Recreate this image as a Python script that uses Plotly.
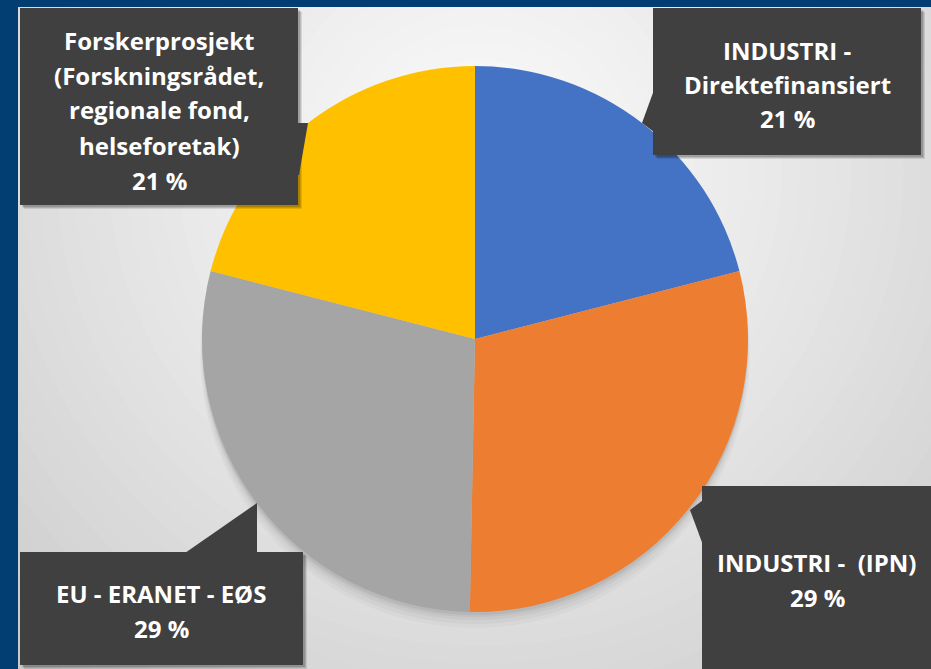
import plotly.graph_objects as go

W, H = 931, 669

# ---- data ----
categories = [
    "INDUSTRI - Direktefinansiert",
    "INDUSTRI -  (IPN)",
    "EU - ERANET - EØS",
    "Forskerprosjekt (Forskningsrådet, regionale fond, helseforetak)",
]
shares = [21.0, 29.3, 28.7, 21.0]
pct_labels = ["21 %", "29 %", "29 %", "21 %"]
label_lines = [
    ["INDUSTRI -", "Direktefinansiert"],
    ["INDUSTRI -  (IPN)"],
    ["EU - ERANET - EØS"],
    ["Forskerprosjekt", "(Forskningsrådet,", "regionale fond,", "helseforetak)"],
]
colors = ["#4472C4", "#ED7D31", "#A5A5A5", "#FFC000"]

# ---- helpers (pixel -> paper) ----
def px(x):
    return x / W

def py(y):
    return 1 - y / H

def path(points):
    return "M " + " L ".join(f"{px(x):.5f},{py(y):.5f}" for x, y in points) + " Z"

shapes = []

# radial background gradient (stepped)
cx, cy = 480, 170
n = 40
r_max, r_min = 720, 40
c_out, c_in = 196, 250
for i in range(n):
    t = i / (n - 1)
    r = r_max + (r_min - r_max) * t
    c = int(round(c_out + (c_in - c_out) * (t ** 0.8)))
    shapes.append(dict(type="circle", xref="paper", yref="paper", layer="below",
                       x0=px(cx - r), x1=px(cx + r), y0=py(cy + r), y1=py(cy - r),
                       fillcolor=f"rgb({c},{c},{c})", line=dict(width=0)))

# soft pie shadow (mostly below the pie)
pcx, pcy, pr = 475, 339, 273
for dr, dy, op in [(2, 14, 0.025), (1, 11, 0.03), (0, 8, 0.035), (0, 5, 0.04), (0, 3, 0.05)]:
    shapes.append(dict(type="circle", xref="paper", yref="paper", layer="below",
                       x0=px(pcx - pr - dr), x1=px(pcx + pr + dr),
                       y0=py(pcy + dy + pr + dr), y1=py(pcy + dy - pr - dr),
                       fillcolor=f"rgba(0,0,0,{op})", line=dict(width=0)))

# dark blue frame (left and top)
frame = "#023E71"
shapes.append(dict(type="rect", xref="paper", yref="paper", layer="below",
                   x0=0, x1=px(18), y0=0, y1=1, fillcolor=frame, line=dict(width=0)))
shapes.append(dict(type="rect", xref="paper", yref="paper", layer="below",
                   x0=0, x1=1, y0=py(7), y1=1, fillcolor=frame, line=dict(width=0)))

# callout boxes: rect (x0, y0, x1, y1) and pointer polygon, in pixels
boxes = [
    dict(rect=(653, 8, 921, 155), wedge=[(654, 90), (642, 123), (654, 132)],
         cx=787, ys=[50, 84, 118]),
    dict(rect=(702, 486, 940, 680), wedge=[(703, 500), (690, 510), (703, 545)],
         cx=817, ys=[562, 597]),
    dict(rect=(20, 552, 303, 665), wedge=[(185, 553), (257, 503), (257, 553)],
         cx=161, ys=[593, 628]),
    dict(rect=(20, 8, 298, 205), wedge=[(297, 123), (308, 123), (299, 175), (297, 175)],
         cx=159, ys=[40, 75, 110, 145, 180]),
]
box_fill = "#404040"
for b in boxes:
    x0, y0, x1, y1 = b["rect"]
    for off, op in [(4, 0.10), (3, 0.12), (2, 0.15)]:
        shapes.append(dict(type="rect", xref="paper", yref="paper", layer="above",
                           x0=px(x0 + off), x1=px(x1 + off), y0=py(y1 + off), y1=py(y0 + off),
                           fillcolor=f"rgba(0,0,0,{op})", line=dict(width=0)))
for b in boxes:
    x0, y0, x1, y1 = b["rect"]
    shapes.append(dict(type="path", xref="paper", yref="paper", layer="above",
                       path=path(b["wedge"]), fillcolor=box_fill, line=dict(width=0)))
    shapes.append(dict(type="rect", xref="paper", yref="paper", layer="above",
                       x0=px(x0), x1=px(x1), y0=py(y1), y1=py(y0),
                       fillcolor=box_fill, line=dict(width=0)))

annotations = []
for b, lines, pct in zip(boxes, label_lines, pct_labels):
    for text, yy in zip(lines + [pct], b["ys"]):
        annotations.append(dict(xref="paper", yref="paper", x=px(b["cx"]), y=py(yy),
                                xanchor="center", yanchor="middle", showarrow=False,
                                text=f"<b>{text}</b>",
                                font=dict(family="Open Sans", size=24, color="white")))

fig = go.Figure(go.Pie(
    labels=categories, values=shares, sort=False, direction="clockwise", rotation=0,
    marker=dict(colors=colors, line=dict(width=0)),
    textinfo="none", hoverinfo="label+percent", showlegend=False,
    domain=dict(x=[px(pcx - pr), px(pcx + pr)], y=[py(pcy + pr), py(pcy - pr)]),
))

fig.update_layout(
    width=W, height=H, margin=dict(l=0, r=0, t=0, b=0, pad=0),
    paper_bgcolor="#D4D4D4", plot_bgcolor="rgba(0,0,0,0)",
    shapes=shapes, annotations=annotations, showlegend=False,
)

fig.write_html("out.html", config={"displayModeBar": False})
